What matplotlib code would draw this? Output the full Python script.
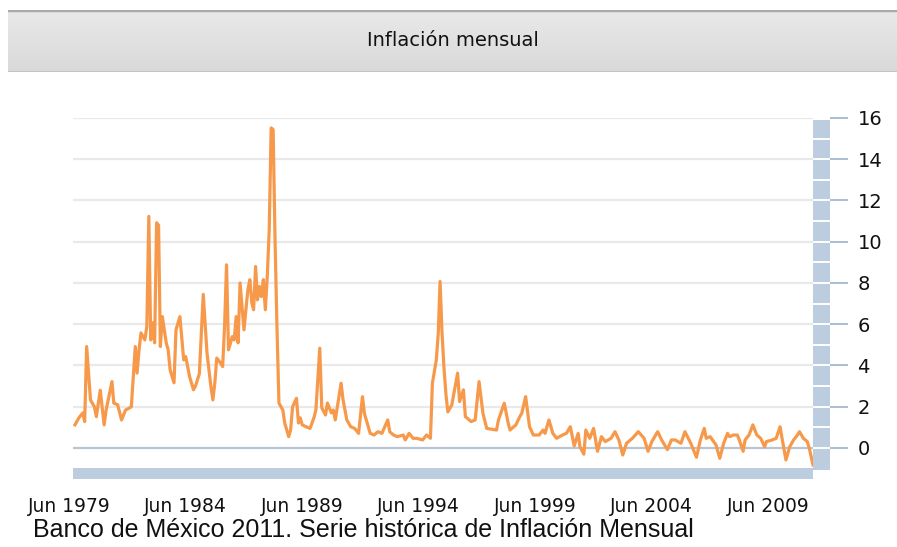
import numpy as np
import pandas as pd
import matplotlib
matplotlib.use("Agg")
import matplotlib.pyplot as plt
from matplotlib.patches import Rectangle
from matplotlib.transforms import blended_transform_factory, ScaledTranslation
from matplotlib.colors import LinearSegmentedColormap

# ---------------- data (monthly inflation, % ) ----------------
START = "1979-07-01"
month_offset = [
    0, 2, 4, 5, 6, 8, 10, 11, 13, 15, 16, 19, 20, 22, 24, 26, 28, 29, 31, 32,
    33, 34, 36, 37, 38, 39, 40, 41, 42, 43, 44, 45, 47, 48, 49, 51, 52, 54, 56, 57,
    59, 61, 62, 64, 66, 68, 70, 71, 72, 73, 75, 76, 77, 78, 79, 81, 82, 83, 84, 85,
    87, 88, 89, 90, 91, 92, 93, 94, 95, 96, 97, 98, 99, 100, 101, 102, 103, 104, 105, 107,
    108, 110, 111, 112, 114, 115, 116, 117, 119, 121, 123, 124, 126, 127, 129, 130, 132, 133, 134, 137,
    138, 140, 142, 144, 146, 148, 149, 151, 152, 154, 156, 158, 161, 162, 164, 166, 169, 170, 172, 174,
    176, 179, 181, 183, 184, 186, 187, 188, 189, 190, 191, 192, 194, 197, 198, 200, 201, 204, 206, 208,
    210, 212, 217, 218, 221, 223, 224, 227, 229, 230, 232, 234, 236, 239, 241, 242, 244, 246, 248, 251,
    253, 255, 257, 259, 260, 262, 263, 265, 267, 269, 271, 273, 276, 278, 280, 282, 284, 287, 290, 293,
    295, 297, 300, 302, 305, 307, 309, 312, 314, 317, 320, 322, 324, 325, 327, 330, 332, 334, 336, 337,
    339, 341, 342, 344, 345, 347, 349, 351, 353, 355, 356, 359, 361, 363, 364, 366, 368, 370, 372, 373,
    375, 377, 378, 380,
]
inflation = [
    1.12, 1.46, 1.70, 1.28, 4.92, 2.33, 2.00, 1.52, 2.80, 1.12, 1.84, 3.22, 2.18, 2.09, 1.36, 1.84, 1.94, 2.00, 4.92, 3.63,
    4.76, 5.58, 5.24, 5.89, 11.23, 5.24, 6.07, 5.10, 10.92, 10.80, 4.92, 6.37, 5.10, 4.76, 3.79, 3.16, 5.73, 6.37, 4.27, 4.43,
    3.46, 2.82, 3.00, 3.60, 7.45, 4.60, 2.98, 2.33, 3.14, 4.36, 4.11, 3.95, 5.89, 8.88, 4.76, 5.40, 5.24, 6.37, 5.10, 8.00,
    5.73, 6.70, 7.67, 8.16, 7.04, 6.70, 8.80, 7.18, 7.83, 7.34, 8.16, 6.70, 8.32, 10.58, 15.52, 15.44, 9.95, 5.89, 2.18, 1.84,
    1.21, 0.55, 0.87, 2.00, 2.41, 1.21, 1.46, 1.12, 1.03, 0.95, 1.46, 1.84, 4.84, 1.95, 1.60, 2.18, 1.70, 1.84, 1.36, 3.14,
    2.33, 1.36, 1.03, 0.95, 0.71, 2.49, 1.68, 1.03, 0.71, 0.63, 0.79, 0.71, 1.36, 0.79, 0.63, 0.55, 0.63, 0.39, 0.71, 0.47,
    0.47, 0.39, 0.63, 0.47, 3.14, 4.27, 5.57, 8.07, 5.57, 3.90, 2.60, 1.75, 2.09, 3.63, 2.25, 2.82, 1.52, 1.28, 1.36, 3.22,
    1.68, 0.95, 0.87, 1.36, 2.17, 1.20, 0.87, 1.12, 1.52, 1.68, 2.49, 1.03, 0.63, 0.63, 0.87, 0.71, 1.36, 0.71, 0.47, 0.63,
    0.71, 1.03, 0.10, 0.71, 0.06, -0.30, 0.87, 0.47, 0.95, -0.16, 0.55, 0.31, 0.47, 0.79, 0.39, -0.34, 0.23, 0.47, 0.79, 0.47,
    -0.16, 0.31, 0.79, 0.39, -0.08, 0.39, 0.39, 0.23, 0.79, 0.23, -0.45, 0.39, 0.95, 0.47, 0.55, 0.15, -0.50, 0.23, 0.71, 0.55,
    0.63, 0.63, 0.39, -0.16, 0.39, 0.63, 1.12, 0.63, 0.47, 0.06, 0.31, 0.39, 0.47, 1.03, 0.47, -0.58, 0.06, 0.39, 0.63, 0.79,
    0.47, 0.31, 0.00, -0.82,
]
END = "2011-03-01"
tick_years = [1979, 1984, 1989, 1994, 1999, 2004, 2009]
y_ticks = [0, 2, 4, 6, 8, 10, 12, 14, 16]
title = "Inflación mensual"
source = "Banco de México 2011. Serie histórica de Inflación Mensual"

dates = [pd.Timestamp(START) + pd.DateOffset(months=int(m)) for m in month_offset]

# ---------------- layout ----------------
W, H = 897, 547
fig = plt.figure(figsize=(W / 100, H / 100), dpi=100)
fig.patch.set_facecolor("white")

def fx(px):
    return px / W

def fy(py):
    return 1 - py / H

ax_left, ax_right, ax_top, ax_bottom = 73, 813, 118, 468
ax = fig.add_axes([fx(ax_left), fy(ax_bottom), (ax_right - ax_left) / W, (ax_bottom - ax_top) / H])
ax.set_facecolor("white")
for s in ax.spines.values():
    s.set_visible(False)

ymin = -0.97
ax.set_ylim(ymin, 16)
ax.set_xlim(pd.Timestamp(START), pd.Timestamp(END))

# grid
for v in y_ticks[1:]:
    ax.axhline(v, color="#e9e9e9", lw=1.6, zorder=1)
ax.axhline(0, color="#b9c5d3", lw=1.6, zorder=1)

# data line
ax.plot(dates, inflation, color="#f7994b", lw=2.3, solid_joinstyle="round", zorder=3)

# x ticks
xt = [pd.Timestamp(f"{y}-06-01") for y in tick_years]
ax.set_xticks(xt)
ax.set_xticklabels([f"Jun {y}" for y in tick_years])
ax.tick_params(axis="x", length=0, pad=21, labelsize=13.5, labelcolor="#111111")
for lab in ax.get_xticklabels():
    lab.set_family("DejaVu Sans")
    lab.set_transform(lab.get_transform() + ScaledTranslation(-4 / 100, 0, fig.dpi_scale_trans))

# y ticks on right
ax.yaxis.tick_right()
ax.set_yticks(y_ticks)
ax.set_yticklabels([str(v) for v in y_ticks])
ax.tick_params(axis="y", length=0, pad=32, labelsize=14, labelcolor="#111111")
for lab in ax.get_yticklabels():
    lab.set_family("DejaVu Sans")

# right scroll-like bar with segments
bt = blended_transform_factory(ax.transAxes, ax.transData)
axw = ax_right - ax_left
bar_color = "#bccddf"
bar_top = 15.92
ax.add_patch(Rectangle((1.0, ymin - 0.1), 17 / axw, bar_top - ymin + 0.1, transform=bt,
                       facecolor=bar_color, edgecolor="none", clip_on=False, zorder=4))
for v in range(0, 16):
    ax.plot([1.0, 1.0 + 17 / axw], [v, v], transform=bt, color="white", lw=1.4,
            clip_on=False, zorder=5, solid_capstyle="butt")
for v in y_ticks:
    ax.plot([1.0 + 17 / axw, 1.0 + 35 / axw], [v, v], transform=bt, color="#aabdd3", lw=1.4,
            clip_on=False, zorder=5, solid_capstyle="butt")

# bottom bar
fig.add_artist(Rectangle((fx(73), fy(479)), 740 / W, 11 / H, transform=fig.transFigure,
                         facecolor=bar_color, edgecolor="none", zorder=4))

# title bar with gradient
tb = fig.add_axes([fx(8), fy(72), (W - 8) / W, 62 / H])
grad = np.linspace(0, 1, 100).reshape(-1, 1)
cm = LinearSegmentedColormap.from_list("g", ["#e9e9e9", "#d9d9d9"])
tb.imshow(grad, aspect="auto", cmap=cm, extent=[0, 1, 0, 1], origin="upper")
tb.set_xlim(0, 1)
tb.set_ylim(0, 1)
tb.axis("off")
tb.axhline(1.0, color="#a9a9a9", lw=2.5)
tb.axhline(0.0, color="#c4c4c4", lw=1.5)
tb.text(0.5, 0.5, title, ha="center", va="center", fontsize=14, family="DejaVu Sans", color="#111111")

# source caption
fig.text(fx(33), fy(530), source, ha="left", va="center", fontsize=18, family="Liberation Sans", color="#111111")

fig.savefig("out.png", dpi=100)
